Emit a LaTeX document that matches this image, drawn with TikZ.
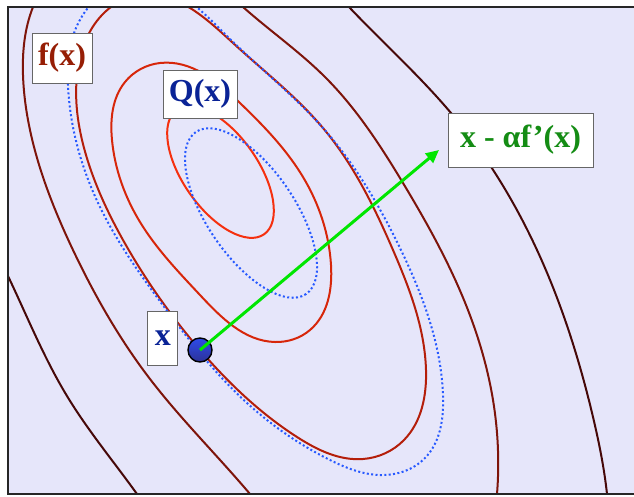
\documentclass[tikz,border=0pt]{standalone}
\usepackage{fontspec}
\setmainfont{Liberation Serif}
\usetikzlibrary{arrows.meta,positioning,hobby}

\definecolor{lav}{RGB}{230,230,250}
\definecolor{fA}{RGB}{245,48,15}
\definecolor{fB}{RGB}{215,38,10}
\definecolor{fC}{RGB}{180,30,10}
\definecolor{fD}{RGB}{125,20,10}
\definecolor{fE}{RGB}{70,8,8}
\definecolor{qblue}{RGB}{40,90,255}
\definecolor{fred}{RGB}{150,30,5}
\definecolor{navy}{RGB}{10,35,150}
\definecolor{stepgreen}{RGB}{20,140,20}
\definecolor{arrowgreen}{RGB}{0,230,0}

\begin{document}
\begin{tikzpicture}[
    x=1pt, y=-1pt,
    contour/.style={line width=2pt},
    quad/.style={qblue, line width=2pt, dash pattern=on 2pt off 2.4pt},
    tag/.style={draw=black!60, line width=1pt, fill=white, inner sep=0pt, font=\fontsize{32}{36}\selectfont\bfseries},
    xdot/.style={circle, draw=black, line width=1.4pt, minimum size=24pt, inner sep=0pt,
        top color={rgb,255:red,45;green,75;blue,235}, bottom color={rgb,255:red,45;green,50;blue,150}}
]

\useasboundingbox (0,0) rectangle (634,496);
\fill[white] (0,0) rectangle (634,496);
\fill[lav] (8,7) rectangle (634,494);

\begin{scope}
\clip (8,7) rectangle (634,494);
\draw[contour, fE] plot[hobby] coordinates {(320,-25) (349,7) (451,113) (537,250) (593,417) (607,494) (609,520)};
\draw[contour, fE] plot[hobby] coordinates {(-10,240) (8,276) (67,396) (137,494) (155,520)};
\draw[contour, fD] plot[hobby] coordinates {(215,-20) (243,7) (325,77) (403,183) (466,305) (493,400) (497,494) (494,520)};
\draw[contour, fD] plot[hobby] coordinates {(48,-20) (33,7) (23,75) (30,130) (73,250) (150,379) (250,494) (275,525)};
\draw[contour, fC] plot[closed hobby] coordinates {(140,-5) (233,43) (323,128) (393,250) (426,370) (404,440) (363,459) (297,437) (200,350) (127,247) (86,155) (78,68) (105,12)};
\draw[contour, fB] plot[closed hobby] coordinates {(160,63) (240,103) (303,177) (331,265) (310,330) (275,342) (200,295) (140,222) (112,140) (125,82)};
\draw[contour, fA, shift={(220.5,172)}, rotate=-55] (0,0) ellipse [x radius=76, y radius=37.5];
\draw[quad] plot[closed hobby] coordinates {(135,-18) (227,36) (323,128) (400,248) (443,395) (425,458) (380,475) (330,460) (247,403) (165,308) (100,207) (68,85) (76,28)};
\draw[quad, shift={(251,213)}, rotate=-55.8] (0,0) ellipse [x radius=98, y radius=44];
\end{scope}
\draw[line width=1.6pt, black!85] (634,7) -- (8,7) -- (8,494) -- (634,494);

\node[tag, text=fred, minimum width=60pt, minimum height=50pt] (fx) at (62,58) {f(x)};
\node[tag, text=navy, minimum width=74pt, minimum height=48pt] (qx) at (200,94) {Q(x)};
\node[xdot] (xpt) at (200,350) {};
\node[tag, text=navy, minimum width=30pt, minimum height=54pt, left=9pt of xpt, yshift=12pt] (xlab) {x};
\coordinate (tip) at (439,150);
\node[tag, text=stepgreen, minimum width=145pt, minimum height=54pt] (xnew) at (520.5,140) {x - αf’(x)};

\draw[arrowgreen, line width=3pt, -{Triangle[length=13pt,width=12pt]}] (xpt.center) -- (tip);

\end{tikzpicture}
\end{document}
